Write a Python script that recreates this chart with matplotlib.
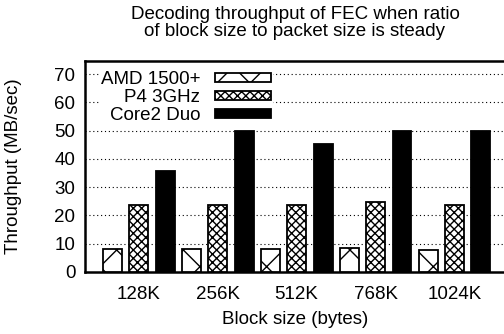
import numpy as np
import matplotlib
matplotlib.use("Agg")
import matplotlib.pyplot as plt

plt.rcParams["font.family"] = ["Liberation Sans", "DejaVu Sans"]
plt.rcParams["hatch.linewidth"] = 1.0

block_sizes = ["128K", "256K", "512K", "768K", "1024K"]
series_names = ["AMD 1500+", "P4 3GHz", "Core2 Duo"]
amd = [8.0, 8.0, 8.0, 8.5, 7.8]
p4 = [23.7, 23.7, 23.7, 24.7, 23.7]
core2 = [35.7, 50.0, 45.3, 50.0, 50.0]

fs = 13.5

fig = plt.figure(figsize=(5.04, 3.34), dpi=100)
ax = fig.add_axes([85 / 504, 1 - 272 / 334, 420 / 504, 211 / 334])

x = np.arange(len(block_sizes))
w = 0.24
step = 0.335
styles = [dict(color="white", hatch="x"),
          dict(color="white", hatch="xxxx"),
          dict(color="black", hatch=None)]
for i, (vals, name, st) in enumerate(zip([amd, p4, core2], series_names, styles)):
    ax.bar(x + (i - 1) * step, vals, w, label=name, facecolor=st["color"],
           edgecolor="black", hatch=st["hatch"], linewidth=1.3, zorder=3)

ax.set_xlim(-0.68, 4.64)
ax.set_ylim(0, 74.6)
ax.set_yticks(range(0, 80, 10))
ax.set_xticks(x)
ax.set_xticklabels(block_sizes)
ax.tick_params(length=0, labelsize=fs, pad=7)
ax.tick_params(axis="x", pad=10)

for yv in range(10, 80, 10):
    ax.axhline(yv, color="black", linestyle=(0, (1, 2.5)), linewidth=0.8, zorder=1)

for s in ["left", "top", "bottom"]:
    ax.spines[s].set_linewidth(1.8)
ax.spines["right"].set_visible(False)

ax.set_ylabel("Throughput (MB/sec)", fontsize=fs)
ax.yaxis.set_label_coords(-0.15, 0.5)
ax.set_xlabel("Block size (bytes)", fontsize=fs, labelpad=6)
ax.set_title("Decoding throughput of FEC when ratio\nof block size to packet size is steady",
             fontsize=fs, pad=18, linespacing=1.0)

leg = ax.legend(loc="upper right", bbox_to_anchor=(0.446, 0.955),
                markerfirst=False, frameon=True, fancybox=False,
                edgecolor="white", framealpha=1.0, fontsize=fs,
                handlelength=3.0, handleheight=0.4, labelspacing=0.05,
                borderpad=0.05, handletextpad=0.8, borderaxespad=0.0)
leg.set_zorder(2)
for t in leg.get_texts():
    t.set_ha("right")
leg._legend_box.align = "right"

fig.savefig("out.png", dpi=100)
